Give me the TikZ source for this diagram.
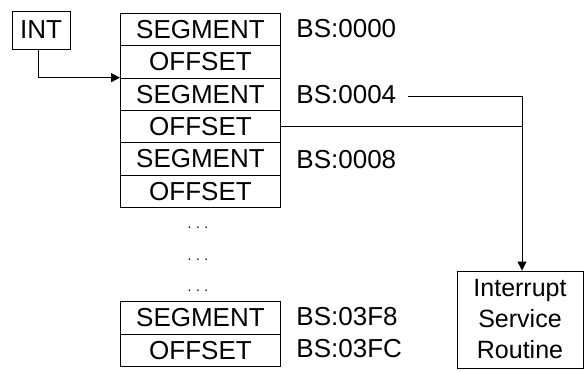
\documentclass[tikz,border=0pt]{standalone}
\usepackage{fontspec}
\setmainfont{Liberation Sans}
\usetikzlibrary{arrows.meta}
\begin{document}
\begin{tikzpicture}[x=1pt,y=-1pt,line width=0.9pt,
  every node/.style={font=\fontsize{26}{30}\selectfont},
  cell/.style={draw,minimum width=160pt,minimum height=32.33pt,inner sep=0pt,anchor=north west},
  lbl/.style={anchor=west,inner sep=0pt},
  dots/.style={inner sep=0pt,font=\fontsize{14}{16}\selectfont},
  arr/.style={-{Triangle[length=9pt,width=9pt]}}]
\useasboundingbox (0,0) rectangle (584,372);
\node[draw,minimum width=58pt,minimum height=38pt,inner sep=0pt] (int) at (41,30) {INT};
\node[cell] (seg1) at (120,13) {SEGMENT};
\node[cell] (off1) at (120,45.33) {OFFSET};
\node[cell] (seg2) at (120,77.67) {SEGMENT};
\node[cell] (off2) at (120,110) {OFFSET};
\node[cell] (seg3) at (120,142.33) {SEGMENT};
\node[cell] (off3) at (120,174.67) {OFFSET};
\node[dots] (d1) at (198,228) {.\kern4.5pt.\kern4.5pt.};
\node[dots] (d2) at (198,260) {.\kern4.5pt.\kern4.5pt.};
\node[dots] (d3) at (198,291) {.\kern4.5pt.\kern4.5pt.};
\node[cell,minimum height=32.5pt] (seg4) at (120,301) {SEGMENT};
\node[cell,minimum height=32.5pt] (off4) at (120,333.5) {OFFSET};
\node[lbl] (l1) at (296,29) {BS:0000};
\node[lbl] (l2) at (296,95) {BS:0004};
\node[lbl] (l3) at (296,160) {BS:0008};
\node[lbl] (l4) at (296,317) {BS:03F8};
\node[lbl] (l5) at (296,349) {BS:03FC};
\node[draw,minimum width=126pt,minimum height=97pt,inner sep=0pt,align=center,
  font=\fontsize{25}{31}\selectfont] (isr) at (520,319.5) {Interrupt\\Service\\Routine};
\coordinate (corner) at (522,96);
\coordinate (start) at (408,96);
\draw[arr] ([xshift=-3pt]int.south) |- (seg2.north west);
\draw (start) -- (corner);
\draw[arr] (corner) -- (corner |- isr.north);
\draw (off2.east) -- (off2.east -| corner);
\end{tikzpicture}
\end{document}
